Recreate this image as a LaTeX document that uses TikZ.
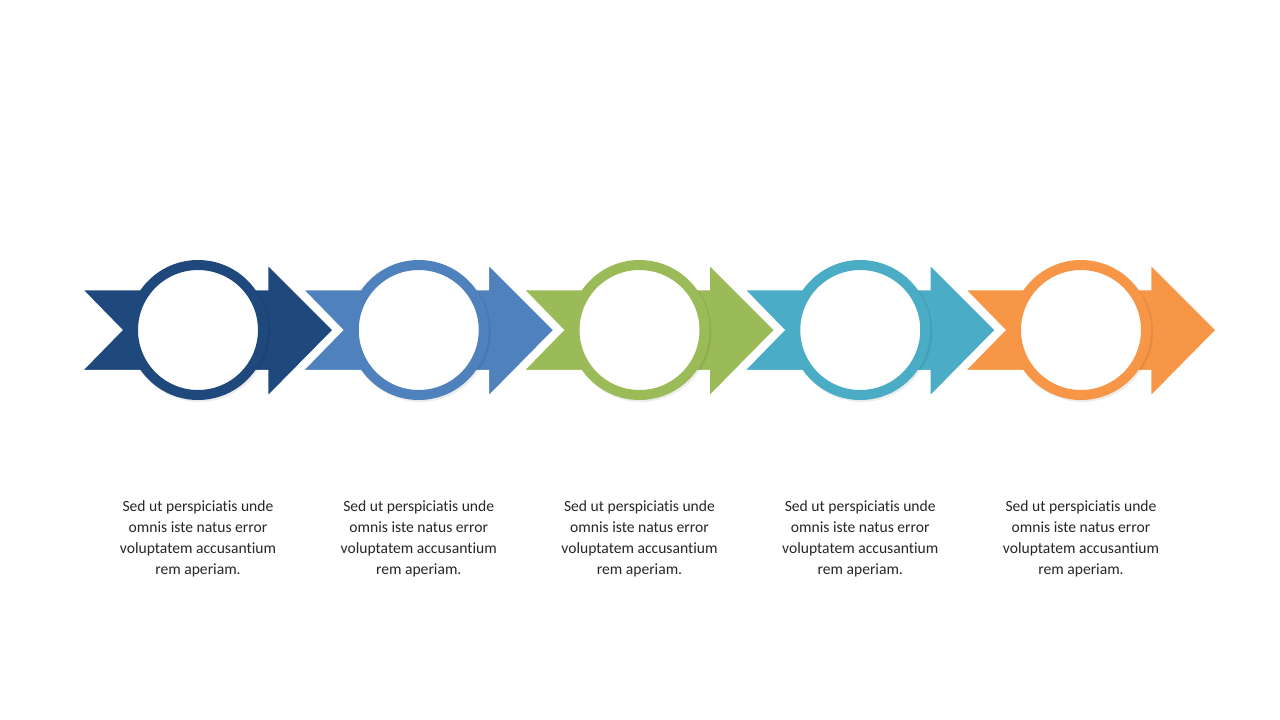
\documentclass[tikz,border=0pt]{standalone}
\usepackage{fontspec}
\setmainfont{Carlito}[Ligatures=NoCommon]
\usepackage{tikz}
\usetikzlibrary{calc}
\definecolor{stepone}{RGB}{31,73,125}
\definecolor{steptwo}{RGB}{79,129,189}
\definecolor{stepthree}{RGB}{155,187,89}
\definecolor{stepfour}{RGB}{75,172,198}
\definecolor{stepfive}{RGB}{247,150,70}
\begin{document}
\begin{tikzpicture}[x=1pt,y=-1pt,
    arrowbody/.style={draw=white,line width=2.5pt,line join=miter},
    ring/.style={circle,draw,fill=white,line width=10pt,minimum size=130pt,inner sep=0pt},
    ringshadow/.style={circle,fill=black,opacity=0.07,minimum size=141pt,inner sep=0pt},
    desc/.style={align=center,text=black!85,font=\fontsize{15.6}{21}\selectfont}]
\useasboundingbox (0,0) rectangle (1280,720);
% step 1
\fill[arrowbody,fill=stepone] (81,289) -- (267,289) -- (267,263) -- (334,330) -- (267,398) -- (267,371) -- (81,371) -- (121,330) -- cycle;
\node[ringshadow] (s1) at (199.5,331.5) {};
\node[ring,draw=stepone] (c1) at (198,330) {};
\node[desc] (t1) at (198,539) {Sed ut perspiciatis unde\\omnis iste natus error\\voluptatem accusantium\\rem aperiam.};
% step 2
\fill[arrowbody,fill=steptwo,shift={(220.75,0)}] (81,289) -- (267,289) -- (267,263) -- (334,330) -- (267,398) -- (267,371) -- (81,371) -- (121,330) -- cycle;
\node[ringshadow] (s2) at (420.25,331.5) {};
\node[ring,draw=steptwo] (c2) at (418.75,330) {};
\node[desc] (t2) at (418.75,539) {Sed ut perspiciatis unde\\omnis iste natus error\\voluptatem accusantium\\rem aperiam.};
% step 3
\fill[arrowbody,fill=stepthree,shift={(441.5,0)}] (81,289) -- (267,289) -- (267,263) -- (334,330) -- (267,398) -- (267,371) -- (81,371) -- (121,330) -- cycle;
\node[ringshadow] (s3) at (641,331.5) {};
\node[ring,draw=stepthree] (c3) at (639.5,330) {};
\node[desc] (t3) at (639.5,539) {Sed ut perspiciatis unde\\omnis iste natus error\\voluptatem accusantium\\rem aperiam.};
% step 4
\fill[arrowbody,fill=stepfour,shift={(662.25,0)}] (81,289) -- (267,289) -- (267,263) -- (334,330) -- (267,398) -- (267,371) -- (81,371) -- (121,330) -- cycle;
\node[ringshadow] (s4) at (861.75,331.5) {};
\node[ring,draw=stepfour] (c4) at (860.25,330) {};
\node[desc] (t4) at (860.25,539) {Sed ut perspiciatis unde\\omnis iste natus error\\voluptatem accusantium\\rem aperiam.};
% step 5
\fill[arrowbody,fill=stepfive,shift={(883,0)}] (81,289) -- (267,289) -- (267,263) -- (334,330) -- (267,398) -- (267,371) -- (81,371) -- (121,330) -- cycle;
\node[ringshadow] (s5) at (1082.5,331.5) {};
\node[ring,draw=stepfive] (c5) at (1081,330) {};
\node[desc] (t5) at (1081,539) {Sed ut perspiciatis unde\\omnis iste natus error\\voluptatem accusantium\\rem aperiam.};
\end{tikzpicture}
\end{document}
